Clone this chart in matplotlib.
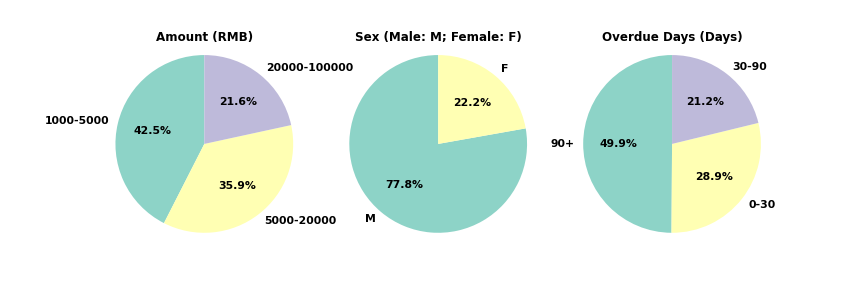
#!/usr/bin/env python3
"""Three pie charts: loan amount, borrower sex and overdue days."""

import matplotlib

matplotlib.use("Agg")
import matplotlib.pyplot as plt  # noqa: E402

# ---------------------------------------------------------------------------
# Data
# ---------------------------------------------------------------------------

amount_labels = ["1000-5000", "5000-20000", "20000-100000"]
amount_share = [42.5, 35.9, 21.6]

sex_labels = ["M", "F"]
sex_share = [77.8, 22.2]

overdue_labels = ["90+", "0-30", "30-90"]
overdue_share = [49.9, 28.9, 21.2]

titles = ["Amount (RMB)", "Sex (Male: M; Female: F)", "Overdue Days (Days)"]

colors = ["#8dd3c7", "#ffffb3", "#bebada"]

# ---------------------------------------------------------------------------
# Plot
# ---------------------------------------------------------------------------

plt.rcParams["font.weight"] = "bold"

fig, axes = plt.subplots(1, 3, figsize=(12, 4))

panels = [
    (amount_labels, amount_share),
    (sex_labels, sex_share),
    (overdue_labels, overdue_share),
]

for ax, (labels, share), title in zip(axes, panels, titles):
    ax.pie(share, labels=labels, colors=colors[:len(share)],
           autopct="%1.1f%%", startangle=90, radius=1.14,
           textprops={"fontsize": 11, "fontweight": "bold"})
    ax.set_title(title, fontsize=12, fontweight="bold")

fig.savefig("out.png", dpi=71.25)
plt.close(fig)
